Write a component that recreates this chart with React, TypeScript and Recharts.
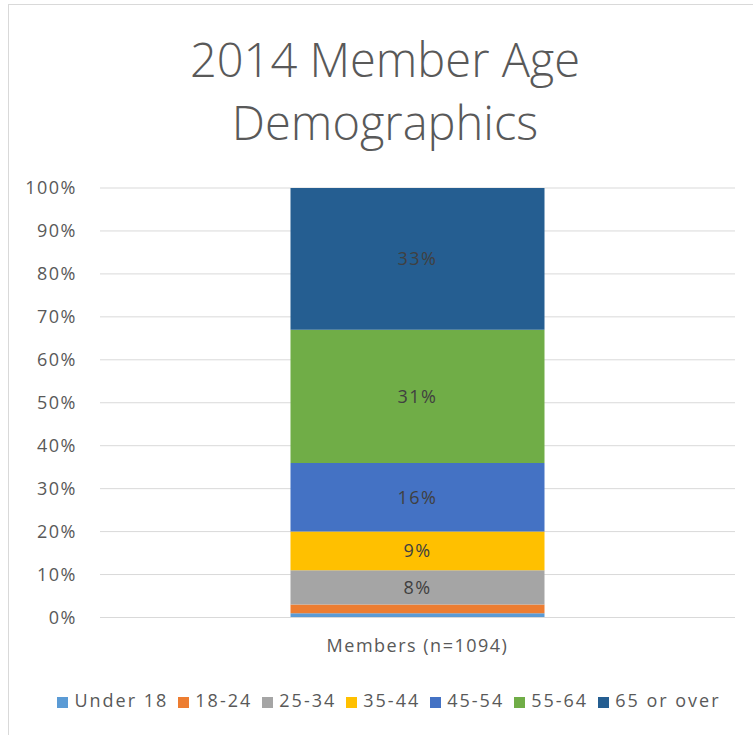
import React from 'react';
import { BarChart, Bar, XAxis, YAxis, CartesianGrid, Legend, LabelList } from 'recharts';

const categories = ['Members (n=1094)'];
const ageGroups = ['Under 18', '18-24', '25-34', '35-44', '45-54', '55-64', '65 or over'];
const shares = [1, 2, 8, 9, 16, 31, 33];
const groupColors = ['#5B9BD5', '#ED7D31', '#A5A5A5', '#FFC000', '#4472C4', '#70AD47', '#255E91'];
const showLabel = [false, false, true, true, true, true, true];
const yTicks = [0, 10, 20, 30, 40, 50, 60, 70, 80, 90, 100];

const FONT = '"Open Sans", sans-serif';
const GREY = '#595959';

// one row per category, one key per age group
const data = categories.map((name) => {
    const row: Record<string, string | number> = { name };
    ageGroups.forEach((g, i) => {
        row[g] = shares[i];
    });
    return row;
});

export default function App() {
    return (
        <div
            style={{
                position: 'absolute',
                left: 0,
                top: 0,
                width: 753,
                height: 735,
                background: '#fff',
                overflow: 'hidden',
                fontFamily: FONT,
            }}
        >
            {/* frame of the chart area */}
            <div
                style={{
                    position: 'absolute',
                    left: 8,
                    top: 4,
                    width: 760,
                    height: 760,
                    borderTop: '1px solid #d9d9d9',
                    borderLeft: '1px solid #d9d9d9',
                }}
            />
            <div
                style={{
                    position: 'absolute',
                    left: 0,
                    top: 28,
                    width: 770,
                    textAlign: 'center',
                    fontSize: 47,
                    lineHeight: '63px',
                    fontWeight: 300,
                    color: GREY,
                }}
            >
                2014 Member Age
                <br />
                Demographics
            </div>
            <div style={{ position: 'absolute', left: 0, top: 0 }}>
                <BarChart
                    width={753}
                    height={735}
                    data={data}
                    margin={{ top: 188, right: 18, bottom: 23, left: 0 }}
                    barCategoryGap="30%"
                >
                    <CartesianGrid vertical={false} stroke="#d9d9d9" />
                    <XAxis
                        dataKey="name"
                        height={70.5}
                        tickLine={false}
                        tickSize={0}
                        tickMargin={22}
                        axisLine={{ stroke: '#d9d9d9' }}
                        tick={{ fill: GREY, fontSize: 18, fontFamily: FONT, letterSpacing: 1.5 }}
                    />
                    <YAxis
                        width={100}
                        domain={[0, 100]}
                        ticks={yTicks}
                        interval={0}
                        axisLine={false}
                        tickLine={false}
                        tickSize={0}
                        tickMargin={23}
                        tickFormatter={(v: number) => `${v}%`}
                        tick={{ fill: GREY, fontSize: 18, fontFamily: FONT, letterSpacing: 1.5 }}
                    />
                    <Legend
                        verticalAlign="bottom"
                        iconType="square"
                        iconSize={11}
                        itemSorter={(item: { value: string }) => ageGroups.indexOf(item.value)}
                        wrapperStyle={{ left: 35, width: 718, fontSize: 18, letterSpacing: 2 }}
                        formatter={(v: string) => (
                            <span style={{ color: GREY, paddingLeft: 2 }}>{v}</span>
                        )}
                    />
                    {ageGroups.map((g, i) => (
                        <Bar key={g} dataKey={g} name={g} stackId="a" fill={groupColors[i]} isAnimationActive={false}>
                            {showLabel[i] && (
                                <LabelList
                                    dataKey={g}
                                    position="center"
                                    formatter={(v: number) => `${v}%`}
                                    fill="#404040"
                                    fontSize={18}
                                    fontFamily={FONT}
                                    letterSpacing={1.5}
                                />
                            )}
                        </Bar>
                    ))}
                </BarChart>
            </div>
        </div>
    );
}
